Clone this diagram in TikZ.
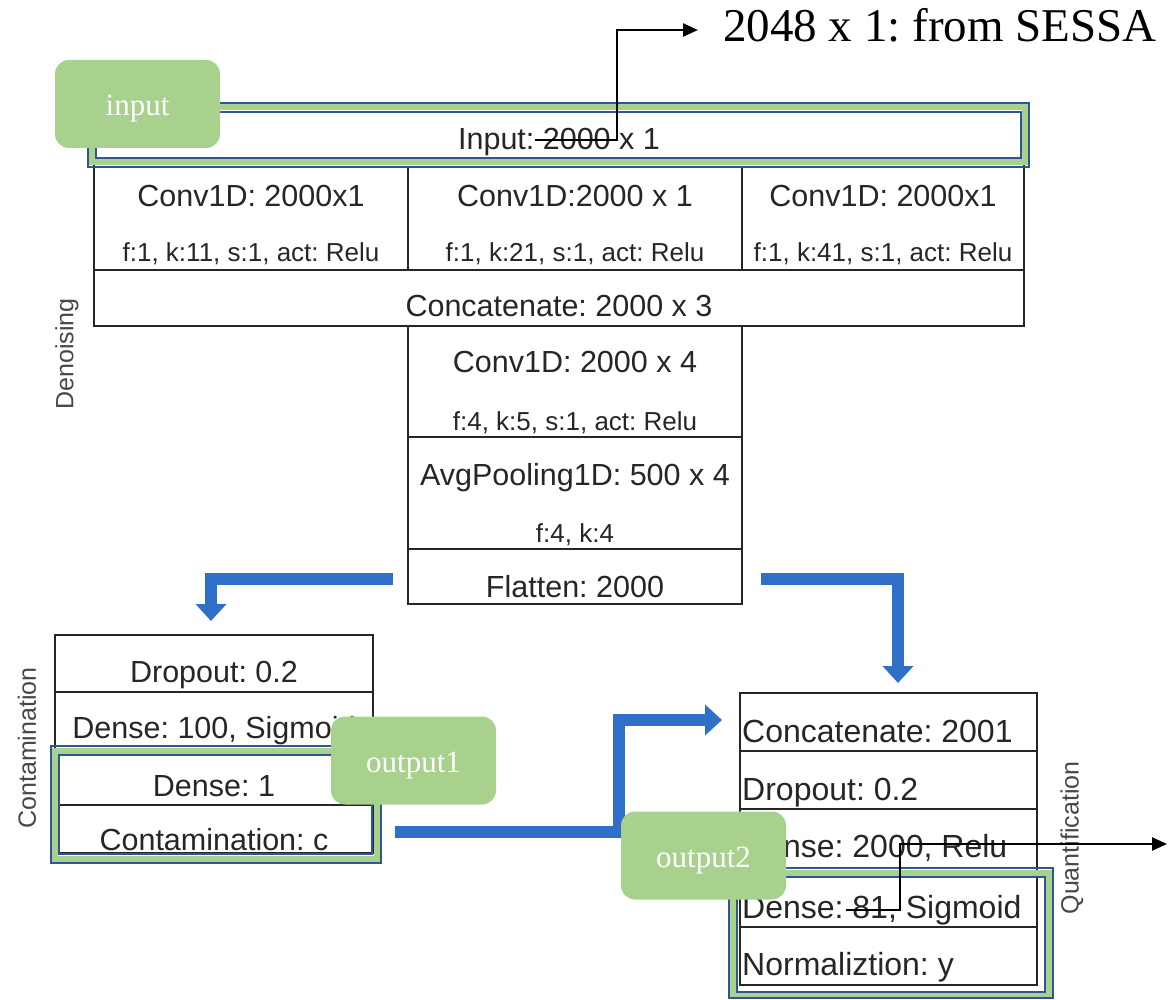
\documentclass[tikz,border=0pt]{standalone}
\usepackage{fontspec}
\setmainfont{Liberation Sans}
\newfontfamily\labelserif{Liberation Serif}
\usetikzlibrary{arrows.meta}
\definecolor{framegreen}{HTML}{A9D18E}
\definecolor{frameblue}{HTML}{2F5597}
\definecolor{flowblue}{HTML}{2F6FC8}
\definecolor{inkgray}{HTML}{262626}
\frenchspacing
\begin{document}
\begin{tikzpicture}[x=1pt,y=-1pt,
  cell/.style n args={2}{draw=inkgray, line width=2.4pt, minimum width=#1, minimum height=#2, inner sep=0pt},
  big/.style={font=\fontsize{30.5}{36}\selectfont, text=inkgray, inner sep=0pt, anchor=base},
  small/.style={font=\fontsize{26}{31}\selectfont, text=inkgray, inner sep=0pt, anchor=base},
  qtext/.style={font=\fontsize{32}{38}\selectfont, text=inkgray, inner sep=0pt, anchor=base west},
  side/.style={font=\fontsize{25}{30}\selectfont, text=inkgray!85, inner sep=0pt, rotate=90},
  tag/.style={fill=framegreen, rounded corners=14pt, minimum width=165pt, minimum height=88pt,
    inner sep=0pt, text height=26pt, text depth=2pt, text=white, font=\labelserif\fontsize{31}{37}\selectfont},
  flow/.style={draw=flowblue, line width=12pt, line join=miter, -{Triangle[width=30pt,length=17pt]}},
  pointer/.style={draw=black, line width=2.4pt, -{Triangle[width=13pt,length=15pt]}},
  bandout/.style={draw=frameblue, line width=2.6pt},
  bandmid/.style={draw=framegreen, line width=6pt},
]
\useasboundingbox (0,0) rectangle (1168,1000);

% ---------- thick blue flow arrows ----------
\coordinate (f1s) at (393,579);  \coordinate (f1e) at (211,621);
\coordinate (f2s) at (761,579);  \coordinate (f2e) at (898,683);
\coordinate (f3s) at (395,832);  \coordinate (f3m) at (619,720);  \coordinate (f3e) at (722,720);
\draw[flow] (f1s) -| (f1e);
\draw[flow] (f2s) -| (f2e);
\draw[flow] (f3s) -| (f3m) -- (f3e);

% ---------- denoising block ----------
\node[cell={930pt}{55pt}]  (inrow) at (559,139.5) {};
\node[cell={314pt}{103pt}] (c1) at (251,218.5) {};
\node[cell={334pt}{103pt}] (c2) at (575,218.5) {};
\node[cell={282pt}{103pt}] (c3) at (883,218.5) {};
\node[cell={930pt}{56pt}]  (cat) at (559,298) {};
\node[cell={334pt}{111pt}] (m1) at (575,381.5) {};
\node[cell={334pt}{112pt}] (m2) at (575,493) {};
\node[cell={334pt}{55pt}]  (m3) at (575,576.5) {};

\node[big] (tin) at (559,150) {Input: 2000 x 1};
\node[big] (tc1) at (251,207) {Conv1D: 2000x1};
\node[small] (sc1) at (251,262) {f:1, k:11, s:1, act: Relu};
\node[big] (tc2) at (575,207) {Conv1D:2000 x 1};
\node[small] (sc2) at (575,262) {f:1, k:21, s:1, act: Relu};
\node[big] (tc3) at (883,207) {Conv1D: 2000x1};
\node[small] (sc3) at (883,262) {f:1, k:41, s:1, act: Relu};
\node[big] (tcat) at (559,317) {Concatenate: 2000 x 3};
\node[big] (tm1) at (575,373) {Conv1D: 2000 x 4};
\node[small] (sm1) at (575,430) {f:4, k:5, s:1, act: Relu};
\node[big] (tm2) at (575,485) {AvgPooling1D: 500 x 4};
\node[small] (sm2) at (575,542) {f:4, k:4};
\node[big] (tm3) at (575,597) {Flatten: 2000};
\node[side] (lden) at (67,354) {Denoising};

% ---------- contamination block ----------
\node[cell={318pt}{57pt}] (k1) at (214,663.5) {};
\node[cell={318pt}{60pt}] (k2) at (214,722) {};
\node[cell={318pt}{53pt}] (k3) at (214,778.5) {};
\node[cell={318pt}{48pt}] (k4) at (214,829) {};
\node[big] (tk1) at (214,682) {Dropout: 0.2};
\node[big] (tk2) at (214,738) {Dense: 100, Sigmoid};
\node[big] (tk3) at (214,796) {Dense: 1};
\node[big] (tk4) at (214,850) {Contamination: c};
\node[side] (lcon) at (27,748) {Contamination};

% ---------- quantification block ----------
\node[cell={297pt}{58pt}] (q1) at (888.5,722) {};
\node[cell={297pt}{58pt}] (q2) at (888.5,780) {};
\node[cell={297pt}{59pt}] (q3) at (888.5,838.5) {};
\node[cell={297pt}{59pt}] (q4) at (888.5,897.5) {};
\node[cell={297pt}{58pt}] (q5) at (888.5,956) {};
\node[qtext] (tq1) at (742,742) {Concatenate: 2001};
\node[qtext] (tq2) at (742,800) {Dropout: 0.2};
\node[qtext] (tq3) at (742,857) {Dense: 2000, Relu};
\node[qtext] (tq4) at (742,918) {Dense: 81, Sigmoid};
\node[qtext] (tq5) at (742,975) {Normaliztion: y};
\node[side] (lqua) at (1072,838) {Quantification};

% ---------- highlight frames ----------
\draw[bandmid] (92,107.5) rectangle (1025,162.5);
\draw[bandout] (88,103) rectangle (1029,167);
\draw[bandout] (96,112) rectangle (1021,158);

\draw[bandmid] (55,750.5) rectangle (376.5,858.5);
\draw[bandout] (51,746) rectangle (381,863);
\draw[bandout] (59,755) rectangle (372,854);

\draw[bandmid] (733,872.5) rectangle (1049,995);
\draw[bandout] (729,868) rectangle (1053,998);
\draw[bandout] (737,877) rectangle (1045,992);

% ---------- green tags ----------
\node[tag] (gin) at (137.5,104) {input};
\node[tag] (gout1) at (413.5,760.5) {output1};
\node[tag] (gout2) at (703.5,855.5) {output2};

% ---------- black pointers ----------
\node[font=\labelserif\fontsize{47}{56}\selectfont, inner sep=0pt, anchor=base west] (src) at (723,42) {2048 x 1: from SESSA};
\coordinate (p1s) at (535,140);
\coordinate (p1b) at (617,30);
\draw[pointer, shorten >=25pt] (p1s) -| (p1b) -- (p1b -| src.west);

\coordinate (p2s) at (846,910);
\coordinate (p2b) at (900,844);
\coordinate (p2e) at (1167,844);
\draw[pointer] (p2s) -| (p2b) -- (p2e);
\end{tikzpicture}
\end{document}
